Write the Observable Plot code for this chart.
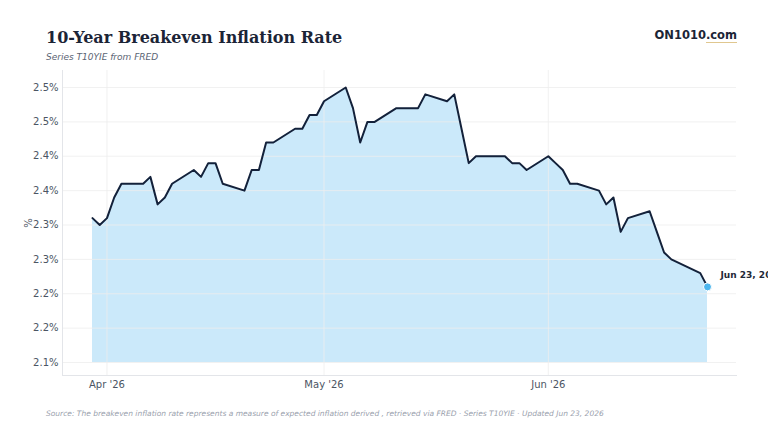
<!DOCTYPE html>
<html>
<head>
<meta charset="utf-8">
<script src="https://cdn.jsdelivr.net/npm/d3@7"></script>
<script src="https://cdn.jsdelivr.net/npm/@observablehq/plot@0.6"></script>
<style>
  html, body { margin: 0; padding: 0; background: #ffffff; }
  body { width: 768px; height: 432px; overflow: hidden; position: relative; }
  #title { position: absolute; left: 46px; top: 30px; font: bold 16px/16px "DejaVu Serif", serif; color: #1b2436; white-space: nowrap; }
  #subtitle { position: absolute; left: 46px; top: 53px; font: italic 9px/9px "DejaVu Sans", sans-serif; color: #5b6474; white-space: nowrap; }
  #brand { position: absolute; right: 31px; top: 29px; font: bold 11.5px/12px "DejaVu Sans", sans-serif; color: #1b2436; white-space: nowrap; }
  #brand span { border-bottom: 1px solid rgba(214, 180, 106, 0.75); }
  #chart { position: absolute; left: 0; top: 62px; }
  #caption { position: absolute; left: 46px; top: 410px; font: italic 7.5px/8px "DejaVu Sans", sans-serif; color: #9aa1ad; white-space: nowrap; }
</style>
</head>
<body>
<div id="title">10-Year Breakeven Inflation Rate</div>
<div id="subtitle">Series T10YIE from FRED</div>
<div id="brand">ON1010<span>.com</span></div>
<div id="chart"></div>
<div id="caption">Source: The breakeven inflation rate represents a measure of expected inflation derived , retrieved via FRED · Series T10YIE · Updated Jun 23, 2026</div>
<script>
const dates = [
  "2026-03-30","2026-03-31",
  "2026-04-01","2026-04-02","2026-04-03","2026-04-06","2026-04-07","2026-04-08","2026-04-09","2026-04-10",
  "2026-04-13","2026-04-14","2026-04-15","2026-04-16","2026-04-17","2026-04-20","2026-04-21","2026-04-22",
  "2026-04-23","2026-04-24","2026-04-27","2026-04-28","2026-04-29","2026-04-30",
  "2026-05-01","2026-05-04","2026-05-05","2026-05-06","2026-05-07","2026-05-08","2026-05-11","2026-05-12",
  "2026-05-13","2026-05-14","2026-05-15","2026-05-18","2026-05-19","2026-05-20","2026-05-21","2026-05-22",
  "2026-05-26","2026-05-27","2026-05-28","2026-05-29",
  "2026-06-01","2026-06-02","2026-06-03","2026-06-04","2026-06-05","2026-06-08","2026-06-09","2026-06-10",
  "2026-06-11","2026-06-12","2026-06-15","2026-06-16","2026-06-17","2026-06-18","2026-06-22","2026-06-23"
];
const values = [
  2.31, 2.30, 2.31, 2.34, 2.36, 2.36, 2.37, 2.33, 2.34, 2.36,
  2.38, 2.37, 2.39, 2.39, 2.36, 2.35, 2.38, 2.38, 2.42, 2.42,
  2.44, 2.44, 2.46, 2.46, 2.48, 2.50, 2.47, 2.42, 2.45, 2.45,
  2.47, 2.47, 2.47, 2.47, 2.49, 2.48, 2.49, 2.44, 2.39, 2.40,
  2.40, 2.39, 2.39, 2.38, 2.40, 2.39, 2.38, 2.36, 2.36, 2.35,
  2.33, 2.34, 2.29, 2.31, 2.32, 2.29, 2.26, 2.25, 2.23, 2.21
];
const yTicks = [2.10, 2.15, 2.20, 2.25, 2.30, 2.35, 2.40, 2.45, 2.50];
const yTickLabels = ["2.1%", "2.2%", "2.2%", "2.3%", "2.3%", "2.4%", "2.4%", "2.5%", "2.5%"];
const xTickDates = ["2026-04-01", "2026-05-01", "2026-06-01"];
const xTickLabels = ["Apr '26", "May '26", "Jun '26"];
const baseline = 2.10;
const endLabel = "Jun 23, 2026";

const data = dates.map((d, i) => ({date: new Date(d + "T00:00:00Z"), value: values[i]}));
const last = data[data.length - 1];
const xTicks = xTickDates.map(d => new Date(d + "T00:00:00Z"));
const yLabelMap = new Map(yTicks.map((t, i) => [t, yTickLabels[i]]));
const xLabelMap = new Map(xTicks.map((t, i) => [+t, xTickLabels[i]]));

const chart = Plot.plot({
  width: 768,
  height: 340,
  marginTop: 8,
  marginBottom: 27,
  marginLeft: 62,
  marginRight: 32,
  style: {fontFamily: "DejaVu Sans, sans-serif", fontSize: "10px", color: "#4b5563", background: "transparent", overflow: "visible"},
  x: {type: "utc", domain: [data[0].date, last.date], insetLeft: 30, insetRight: 29},
  y: {domain: [2.10, 2.50], insetTop: 17, insetBottom: 13},
  marks: [
    Plot.areaY(data, {x: "date", y1: baseline, y2: "value", fill: "#cbe9fa"}),
    Plot.gridY(yTicks, {stroke: "#eeeeee", strokeOpacity: 0.8}),
    Plot.gridX(xTicks, {stroke: "#eeeeee", strokeOpacity: 0.8}),
    Plot.frame({anchor: "left", stroke: "#e3e5e9"}),
    Plot.frame({anchor: "bottom", stroke: "#e3e5e9"}),
    Plot.lineY(data, {x: "date", y: "value", stroke: "#13213a", strokeWidth: 2, strokeLinejoin: "round"}),
    Plot.axisY(yTicks, {tickSize: 0, tickPadding: 4, tickFormat: d => yLabelMap.get(d), label: "%", labelAnchor: "center", labelArrow: "none", labelOffset: 38, fill: "#4b5563"}),
    Plot.axisX(xTicks, {tickSize: 0, tickPadding: 5, tickFormat: d => xLabelMap.get(+d), label: null, fill: "#4b5563"}),
    Plot.dot([last], {x: "date", y: "value", r: 4, fill: "#4cb6ee", stroke: "#ffffff", strokeWidth: 1}),
    Plot.text([last], {x: "date", y: "value", text: () => endLabel, dx: 13, dy: -12, textAnchor: "start", fontWeight: "bold", fill: "#1f2937", fontSize: 9})
  ]
});
document.getElementById("chart").appendChild(chart);
</script>
</body>
</html>
